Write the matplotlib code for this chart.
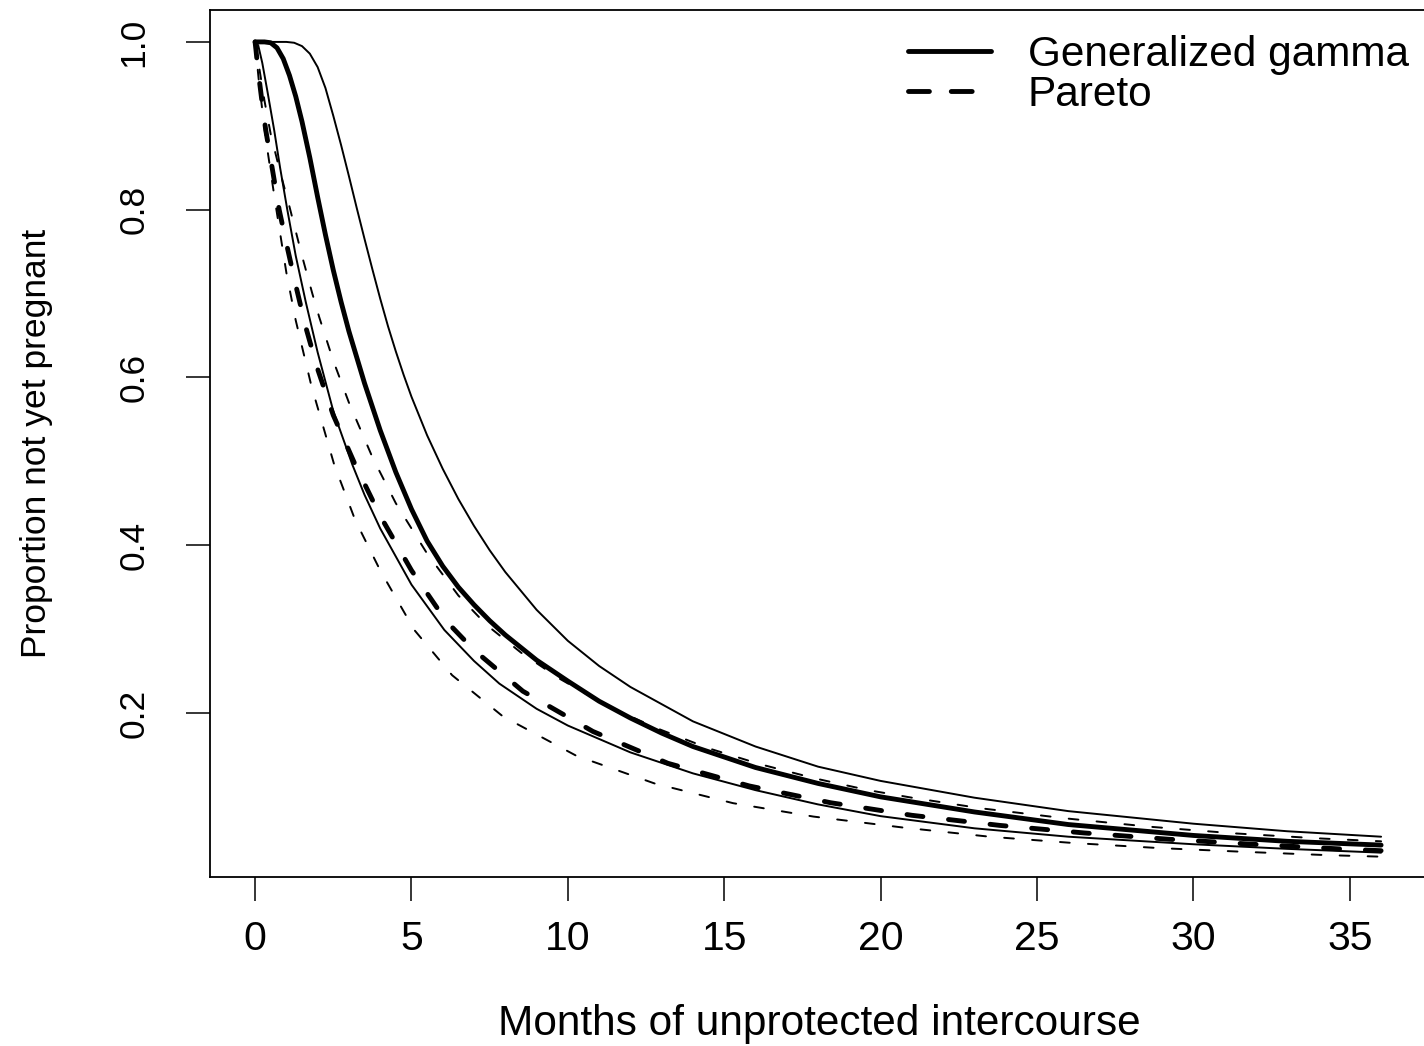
import matplotlib
matplotlib.use("Agg")
import matplotlib.pyplot as plt
from matplotlib.lines import Line2D

plt.rcParams["font.family"] = ["Liberation Sans", "DejaVu Sans"]

# Survival curves: proportion of couples not yet pregnant by month
gg_mid_x = [0, 0.3, 0.5, 0.7, 0.9, 1.1, 1.3, 1.5, 1.75, 2.0, 2.25, 2.5, 2.75, 3.0,
            3.5, 4.0, 4.5, 5.0, 5.5, 6.0, 6.5, 7.0, 7.5, 8.0, 9.0, 10, 11, 12, 13,
            14, 16, 18, 20, 23, 26, 30, 33, 36]
gg_mid_y = [1.0, 1.0, 0.999, 0.993, 0.98, 0.96, 0.935, 0.905, 0.862, 0.815, 0.77,
            0.728, 0.69, 0.655, 0.593, 0.537, 0.487, 0.443, 0.405, 0.375, 0.350,
            0.329, 0.310, 0.293, 0.263, 0.238, 0.214, 0.194, 0.176, 0.16, 0.135,
            0.116, 0.1, 0.082, 0.067, 0.054, 0.047, 0.0425]

gg_hi_x = [0, 0.5, 1.0, 1.25, 1.5, 1.75, 2.0, 2.25, 2.5, 2.75, 3.0, 3.25, 3.5,
           3.75, 4.0, 4.25, 4.5, 4.75, 5.0, 5.5, 6.0, 6.5, 7.0, 7.5, 8.0, 9.0, 10,
           11, 12, 14, 16, 18, 20, 23, 26, 30, 33, 36]
gg_hi_y = [1.0, 1.0, 1.0, 0.999, 0.995, 0.986, 0.97, 0.945, 0.912, 0.877, 0.84,
           0.802, 0.765, 0.729, 0.694, 0.661, 0.631, 0.603, 0.577, 0.531, 0.491,
           0.455, 0.423, 0.394, 0.368, 0.323, 0.286, 0.256, 0.231, 0.19, 0.16,
           0.136, 0.119, 0.099, 0.083, 0.068, 0.059, 0.0525]

gg_lo_x = [0, 0.1, 0.23, 0.4, 0.61, 0.8, 1.03, 1.3, 1.62, 2.0, 2.5, 3.11, 3.5, 4.0,
           5.0, 6.05, 7.0, 7.81, 9, 10, 12, 14, 16, 18, 20, 23, 26, 30, 33, 36]
gg_lo_y = [1.0, 0.996, 0.975, 0.94, 0.895, 0.85, 0.80, 0.745, 0.69, 0.63, 0.56,
           0.496, 0.46, 0.42, 0.353, 0.299, 0.262, 0.235, 0.205, 0.185, 0.153,
           0.128, 0.108, 0.091, 0.077, 0.0625, 0.0525, 0.0435, 0.038, 0.0335]

par_mid_x = [0, 0.03, 0.07, 0.15, 0.25, 0.34, 0.5, 0.77, 1.0, 1.3, 1.62, 2.0, 2.5,
             3.2, 4.0, 5.0, 6.1, 7.0, 8.56, 10.8, 13.2, 15.8, 18.4, 21.0, 23.8,
             26.5, 29.2, 31.9, 34.65, 36]
par_mid_y = [1.0, 0.99, 0.975, 0.95, 0.92, 0.895, 0.86, 0.80, 0.76, 0.71, 0.66,
             0.61, 0.555, 0.496, 0.435, 0.37, 0.31, 0.275, 0.226, 0.178, 0.14,
             0.113, 0.093, 0.078, 0.066, 0.057, 0.0495, 0.0435, 0.038, 0.0358]

par_hi_x = [0, 0.05, 0.15, 0.3, 0.5, 0.8, 1.09, 1.5, 1.83, 2.05, 2.5, 3.0, 3.75,
            4.5, 5.5, 6.5, 7.4, 8.5, 9.73, 11.23, 12.83, 14.49, 16.14, 17.9, 19.6,
            21, 23.2, 25.9, 28.6, 31.3, 34, 36]
par_hi_y = [1.0, 0.99, 0.965, 0.93, 0.89, 0.845, 0.805, 0.745, 0.70, 0.672, 0.62,
            0.57, 0.505, 0.45, 0.39, 0.34, 0.305, 0.272, 0.241, 0.209, 0.182,
            0.158, 0.139, 0.122, 0.108, 0.099, 0.0864, 0.0744, 0.0644, 0.0565,
            0.0505, 0.047]

par_lo_x = [0, 0.05, 0.13, 0.34, 0.66, 1.0, 1.3, 1.8, 2.53, 3.2, 4.0, 5.09, 6.3,
            7.92, 10.27, 12.77, 15.28, 17.85, 20.7, 23.48, 26.15, 28.87, 31.6,
            34.3, 36]
par_lo_y = [1.0, 0.98, 0.95, 0.885, 0.805, 0.725, 0.668, 0.59, 0.496, 0.43, 0.37,
            0.299, 0.245, 0.196, 0.149, 0.116, 0.0925, 0.0765, 0.0635, 0.0525,
            0.045, 0.039, 0.0345, 0.0305, 0.0287]

x_ticks = [0, 5, 10, 15, 20, 25, 30, 35]
y_ticks = [0.2, 0.4, 0.6, 0.8, 1.0]
y_tick_labels = ["0.2", "0.4", "0.6", "0.8", "1.0"]
legend_labels = ["Generalized gamma", "Pareto"]

THICK = 3.5
THIN = 1.4
thick_dash = (0, (3.3, 5.3))
thin_dash = (0, (5.0, 9.4))
legend_dash = (0, (4.3, 4.5))

fig = plt.figure(figsize=(14.24, 10.46), dpi=100)
ax = fig.add_axes([0.1475, 0.1616, 0.854, 0.8288])

common = dict(color="black", solid_capstyle="round", dash_capstyle="round",
              solid_joinstyle="round")
ax.plot(gg_hi_x, gg_hi_y, lw=THIN, **common)
ax.plot(gg_lo_x, gg_lo_y, lw=THIN, **common)
ax.plot(par_hi_x, par_hi_y, lw=THIN, linestyle=thin_dash, **common)
ax.plot(par_lo_x, par_lo_y, lw=THIN, linestyle=thin_dash, **common)
ax.plot(gg_mid_x, gg_mid_y, lw=THICK, **common)
ax.plot(par_mid_x, par_mid_y, lw=THICK, linestyle=thick_dash, **common)

ax.set_xlim(-1.44, 37.44)
ax.set_ylim(0.0045, 1.038)

ax.set_xticks(x_ticks)
ax.set_xticklabels([str(v) for v in x_ticks])
ax.set_yticks(y_ticks)
ax.set_yticklabels(y_tick_labels, rotation=90, va="center")

ax.tick_params(axis="both", direction="out", length=17, width=1.1, color="black")
ax.tick_params(axis="x", labelsize=29.5, pad=14)
ax.tick_params(axis="y", labelsize=25.5, pad=26)

for side in ("left", "bottom", "top", "right"):
    ax.spines[side].set_linewidth(1.3)
    ax.spines[side].set_color("black")

ax.set_xlabel("Months of unprotected intercourse", fontsize=30.5, va="center")
ax.xaxis.set_label_coords(0.501, -0.1696)
ax.set_ylabel("Proportion not yet pregnant", fontsize=25.5)
ax.yaxis.set_label_coords(-0.129, 0.5)

handles = [
    Line2D([], [], color="black", lw=THICK, solid_capstyle="round"),
    Line2D([], [], color="black", lw=THICK, linestyle=legend_dash,
           dash_capstyle="round"),
]
ax.legend(handles, legend_labels, loc="upper left", bbox_to_anchor=(0.574, 0.971),
          frameon=False, fontsize=30.5, borderpad=0, borderaxespad=0,
          handlelength=1.96, handletextpad=0.87, labelspacing=0.0)

fig.savefig("out.png", dpi=100)
